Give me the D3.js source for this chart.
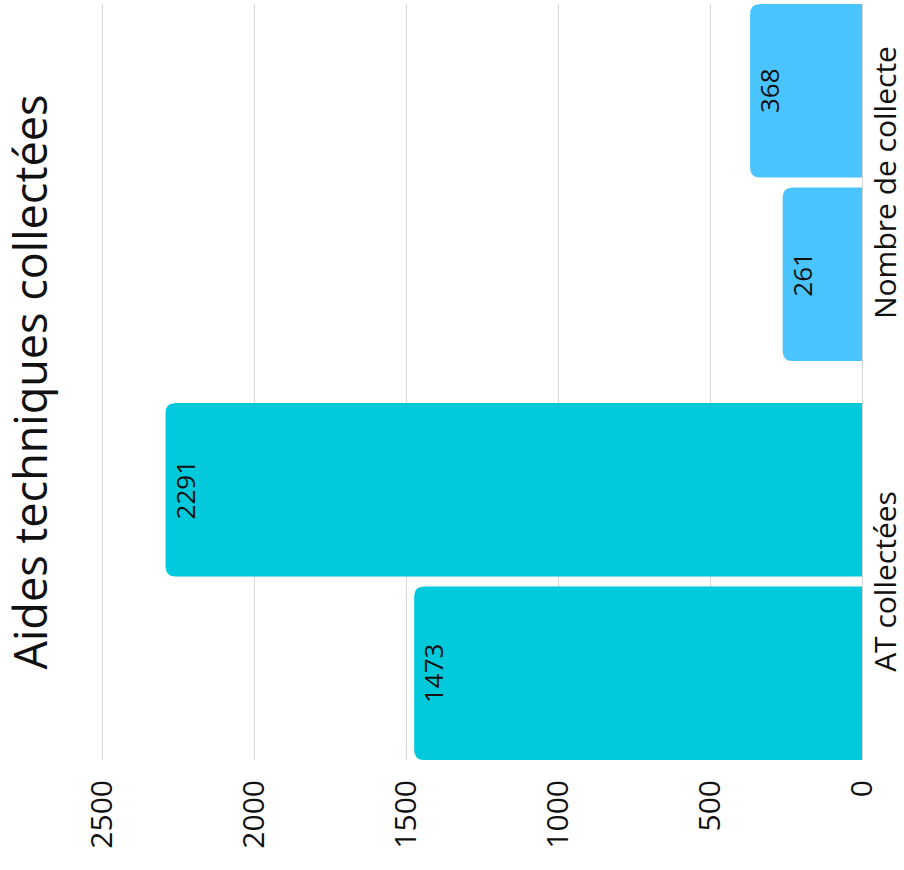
<!DOCTYPE html>
<html>
<head>
<meta charset="utf-8">
<script src="https://cdn.jsdelivr.net/npm/d3@7"></script>
<style>
  html, body { margin: 0; padding: 0; background: #fff; }
  svg { display: block; font-family: "Open Sans", sans-serif; }
</style>
</head>
<body>
<svg id="chart" width="904" height="870"></svg>
<script>
const title = "Aides techniques collectées";
const categories = ["AT collectées", "Nombre de collecte"];
const seriesNames = ["Série 1", "Série 2"];
const series1 = [1473, 261];
const series2 = [2291, 368];
const tickValues = [0, 500, 1000, 1500, 2000, 2500];
const categoryColors = ["#00C9DC", "#4AC4FF"];

const W = 904, H = 870;
const svg = d3.select("#chart");
// The whole chart is drawn upright in an inner frame then rotated -90°
const g = svg.append("g").attr("transform", `translate(0,${H}) rotate(-90)`);

const plotLeft = 110, plotRight = 866;
const y = d3.scaleLinear().domain([0, 2500]).range([862, 102]);
const x0 = d3.scaleBand().domain(categories).range([plotLeft, plotRight])
  .paddingInner(0.105).paddingOuter(0);
const x1 = d3.scaleBand().domain(seriesNames).range([0, x0.bandwidth()])
  .paddingInner(0.055).paddingOuter(0);

// gridlines
const grid = g.append("g").attr("transform", `translate(${plotLeft},0)`)
  .call(d3.axisLeft(y).tickValues(tickValues).tickSize(-(plotRight - plotLeft)).tickFormat(""));
grid.select(".domain").remove();
grid.selectAll("line").attr("stroke", "#d6d6d6").attr("stroke-width", 1);

// value axis labels
const ax = g.append("g").attr("transform", `translate(100,0)`)
  .call(d3.axisLeft(y).tickValues(tickValues).tickSize(0).tickPadding(10).tickFormat(d3.format("d")));
ax.select(".domain").remove();
ax.selectAll("text").attr("font-size", 30).attr("fill", "#111")
  .attr("font-family", "'Open Sans', sans-serif");

const rows = categories.map((c, i) => ({
  cat: c, ci: i,
  values: [
    { name: seriesNames[0], value: series1[i] },
    { name: seriesNames[1], value: series2[i] }
  ]
}));

const r = 10;
function topRounded(x, yTop, w, yBase) {
  const rr = Math.min(r, (yBase - yTop), w / 2);
  return `M${x},${yBase}V${yTop + rr}Q${x},${yTop} ${x + rr},${yTop}H${x + w - rr}Q${x + w},${yTop} ${x + w},${yTop + rr}V${yBase}Z`;
}

const grp = g.selectAll(".grp").data(rows).join("g")
  .attr("class", "grp")
  .attr("transform", d => `translate(${x0(d.cat)},0)`);

grp.selectAll("path").data(d => d.values.map(v => ({ ...v, ci: d.ci }))).join("path")
  .attr("d", d => topRounded(x1(d.name), y(d.value), x1.bandwidth(), y(0)))
  .attr("fill", d => categoryColors[d.ci]);

grp.selectAll("text.val").data(d => d.values).join("text")
  .attr("class", "val")
  .attr("x", d => x1(d.name) + x1.bandwidth() / 2)
  .attr("y", d => y(d.value) + 29)
  .attr("text-anchor", "middle")
  .attr("font-size", 26)
  .attr("fill", "#111")
  .text(d => d.value);

// category labels
g.selectAll(".cat").data(categories).join("text")
  .attr("class", "cat")
  .attr("x", d => x0(d) + x0.bandwidth() / 2)
  .attr("y", 896)
  .attr("text-anchor", "middle")
  .attr("font-size", 30)
  .attr("fill", "#111")
  .text(d => d);

// title
g.append("text")
  .attr("x", (plotLeft + plotRight) / 2)
  .attr("y", 47)
  .attr("text-anchor", "middle")
  .attr("font-size", 45)
  .attr("fill", "#111")
  .text(title);
</script>
</body>
</html>
